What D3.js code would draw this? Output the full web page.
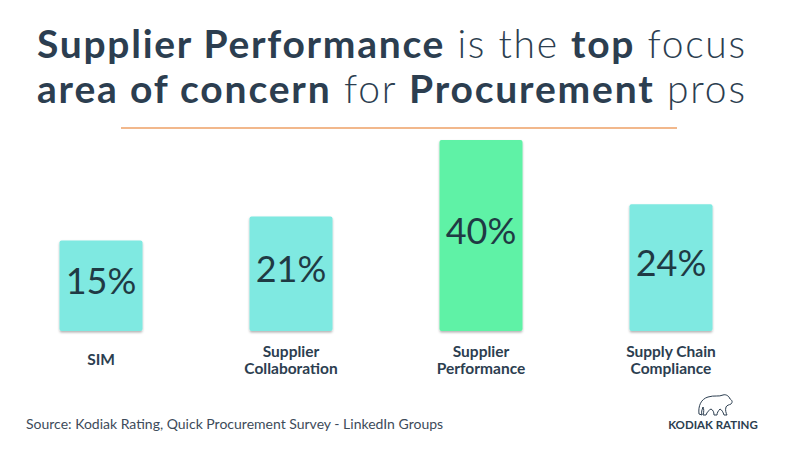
<!DOCTYPE html>
<html>
<head>
<meta charset="utf-8">
<script src="https://cdn.jsdelivr.net/npm/d3@7"></script>
<style>
  body { margin: 0; background: #fff; }
  svg { display: block; font-family: "Lato", "Open Sans", sans-serif; }
</style>
</head>
<body>
<div id="chart"></div>
<script>
// chart data
const categories = ["SIM", "Supplier Collaboration", "Supplier Performance", "Supply Chain Compliance"];
const labelLines = [["SIM"], ["Supplier", "Collaboration"], ["Supplier", "Performance"], ["Supply Chain", "Compliance"]];
const values = [15, 21, 40, 24];
const highlight = [false, false, true, false];

const width = 800;
const height = 450;
const navy = "#2c3e50";

const svg = d3.select("#chart")
  .append("svg")
  .attr("width", width)
  .attr("height", height);

// title, two lines with bold / light runs
const titleLines = [
  [["Supplier Performance", 700], [" is the ", 300], ["top", 700], [" focus", 300]],
  [["area of concern", 700], [" for ", 300], ["Procurement", 700], [" pros", 300]]
];

titleLines.forEach((runs, i) => {
  const t = svg.append("text")
    .attr("x", 37)
    .attr("y", 58 + i * 45)
    .attr("font-size", "39px")
    .attr("textLength", 708)
    .attr("lengthAdjust", "spacing")
    .attr("fill", navy);
  runs.forEach(r => {
    t.append("tspan")
      .attr("font-weight", r[1])
      .style("white-space", "pre")
      .text(r[0]);
  });
});

// orange rule under the title
svg.append("line")
  .attr("x1", 121).attr("x2", 677)
  .attr("y1", 128).attr("y2", 128)
  .attr("stroke", "#f2b88c")
  .attr("stroke-width", 2);

// scales
const xScale = d3.scalePoint()
  .domain(d3.range(categories.length))
  .range([6, 766])
  .padding(0.5);

const yScale = d3.scaleLinear()
  .domain([-7.5, 40])
  .range([331, 140]);

const barWidth = 83;

// soft shadow
const defs = svg.append("defs");
const filter = defs.append("filter").attr("id", "shadow")
  .attr("x", "-10%").attr("y", "-10%").attr("width", "130%").attr("height", "130%");
filter.append("feDropShadow")
  .attr("dx", 0).attr("dy", 1.5)
  .attr("stdDeviation", 1.2)
  .attr("flood-color", "#000")
  .attr("flood-opacity", 0.3);

// bars
svg.selectAll(".bar")
  .data(values)
  .enter()
  .append("rect")
  .attr("class", "bar")
  .attr("x", (d, i) => xScale(i) - barWidth / 2)
  .attr("y", d => yScale(d))
  .attr("width", barWidth)
  .attr("height", d => yScale(-7.5) - yScale(d))
  .attr("rx", 2)
  .attr("fill", (d, i) => highlight[i] ? "#5ef2a6" : "#7fe9e1")
  .attr("filter", "url(#shadow)");

// value labels
svg.selectAll(".val")
  .data(values)
  .enter()
  .append("text")
  .attr("class", "val")
  .attr("x", (d, i) => xScale(i))
  .attr("y", d => (yScale(d) + yScale(-7.5)) / 2 - 6)
  .attr("text-anchor", "middle")
  .attr("dominant-baseline", "central")
  .attr("font-size", "36px")
  .attr("font-weight", 400)
  .attr("fill", "#1f3a44")
  .text(d => d + "%");

// category labels
const catG = svg.selectAll(".cat")
  .data(labelLines)
  .enter()
  .append("text")
  .attr("class", "cat")
  .attr("x", (d, i) => xScale(i))
  .attr("y", d => d.length === 1 ? 365 : 357)
  .attr("text-anchor", "middle")
  .attr("font-size", "15.5px")
  .attr("font-weight", 700)
  .attr("fill", navy);

catG.selectAll("tspan")
  .data(d => d)
  .enter()
  .append("tspan")
  .attr("x", function () { return d3.select(this.parentNode).attr("x"); })
  .attr("dy", (d, i) => i === 0 ? 0 : 17)
  .text(d => d);

// source note
svg.append("text")
  .attr("x", 26)
  .attr("y", 429)
  .attr("font-size", "14px")
  .attr("fill", "#3d4b5a")
  .text("Source: Kodiak Rating, Quick Procurement Survey - LinkedIn Groups");

// logo: outline bear + wordmark
const logo = svg.append("g").attr("transform", "translate(697,392)");
logo.append("path")
  .attr("d", "M2,22 C1,14 4,7 11,5 C17,3 22,5 26,3 C29,2 32,4 33,7 C35,8 36,10 34,12 C32,13 30,13 29,15 C28,18 29,21 30,23 L27,23 C26,20 25,18 23,17 C21,19 20,21 20,23 L17,23 C17,20 16,18 14,17 C12,18 10,20 9,23 L6,23 C7,20 7,17 6,15 C5,18 4,20 5,23 Z")
  .attr("fill", "none")
  .attr("stroke", navy)
  .attr("stroke-width", 1);
svg.append("text")
  .attr("x", 713)
  .attr("y", 429)
  .attr("text-anchor", "middle")
  .attr("font-size", "11.5px")
  .attr("font-weight", 700)
  .attr("fill", navy)
  .text("KODIAK RATING");
</script>
</body>
</html>
